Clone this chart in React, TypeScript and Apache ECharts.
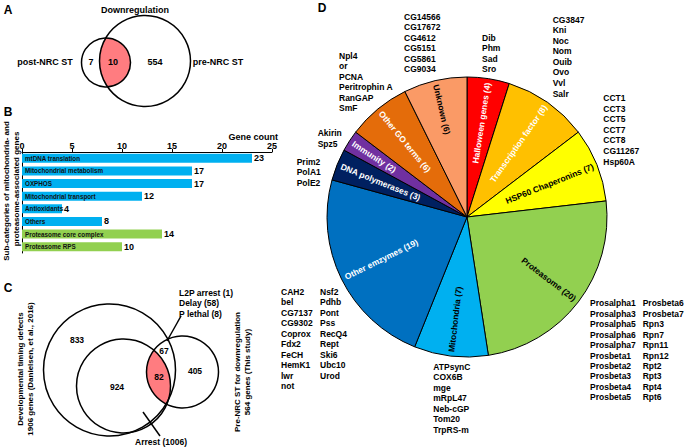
import React, { useEffect, useRef } from 'react';
import * as echarts from 'echarts';

const FONT = '"Liberation Sans", Arial, sans-serif';

// ---------- Panel B data ----------
const barCategories = [
  'mtDNA translation',
  'Mitochondrial metabolism',
  'OXPHOS',
  'Mitochondrial transport',
  'Antioxidants',
  'Others',
  'Proteasome core complex',
  'Proteasome RPS',
];
const barValues = [23, 17, 17, 12, 4, 8, 14, 10];
const barGroups = ['mito', 'mito', 'mito', 'mito', 'mito', 'mito', 'prot', 'prot'];
const groupColors: Record<string, string> = { mito: '#00B0F0', prot: '#92D050' };

// ---------- Panel D data ----------
const pieNames = [
  'Halloween genes',
  'Transcription factor',
  'HSP60 Chaperonins',
  'Proteasome',
  'Mitochondria',
  'Other emzymes',
  'DNA polymerases',
  'Immunity',
  'Other GO terms',
  'Unknown',
];
const pieValues = [4, 8, 7, 20, 7, 19, 3, 2, 6, 6];
const pieColors = ['#FF0000', '#FFC000', '#FFFF00', '#92D050', '#00B0F0', '#0070C0', '#002060', '#7030A0', '#E46C0A', '#FA9A66'];
const pieTextColors = ['#fff', '#fff', '#000', '#000', '#000', '#fff', '#fff', '#fff', '#fff', '#000'];

const unknownGenes = ['CG14566', 'CG17672', 'CG4612', 'CG5151', 'CG5861', 'CG9034'];
const halloweenGenes = ['Dib', 'Phm', 'Sad', 'Sro'];
const tfGenes = ['CG3847', 'Kni', 'Noc', 'Nom', 'Ouib', 'Ovo', 'Vvl', 'Salr'];
const hspGenes = ['CCT1', 'CCT3', 'CCT5', 'CCT7', 'CCT8', 'CG11267', 'Hsp60A'];
const otherGoGenes = ['Npl4', 'or', 'PCNA', 'Peritrophin A', 'RanGAP', 'SmF'];
const immunityGenes = ['Akirin', 'Spz5'];
const dnaPolGenes = ['Prim2', 'PolA1', 'PolE2'];
const enzymeGenes1 = ['CAH2', 'bel', 'CG7137', 'CG9302', 'Coprox', 'Fdx2', 'FeCH', 'HemK1', 'lwr', 'not'];
const enzymeGenes2 = ['Nsf2', 'Pdhb', 'Pont', 'Pss', 'RecQ4', 'Rept', 'Ski6', 'Ubc10', 'Urod'];
const mitoGenes = ['ATPsynC', 'COX6B', 'mge', 'mRpL47', 'Neb-cGP', 'Tom20', 'TrpRS-m'];
const proteasomeGenes1 = ['Prosalpha1', 'Prosalpha3', 'Prosalpha5', 'Prosalpha6', 'Prosalpha7', 'Prosbeta1', 'Prosbeta2', 'Prosbeta3', 'Prosbeta4', 'Prosbeta5'];
const proteasomeGenes2 = ['Prosbeta6', 'Prosbeta7', 'Rpn3', 'Rpn7', 'Rpn11', 'Rpn12', 'Rpt2', 'Rpt3', 'Rpt4', 'Rpt6'];

// ---------- Panel A / C data ----------
const vennATitle = 'Downregulation';
const vennASets = ['post-NRC ST', 'pre-NRC ST'];
const vennACounts = [7, 10, 554];
const vennCCounts = [833, 924, 67, 82, 405];
const vennCNotes = ['L2P arrest (1)', 'Delay (58)', 'P lethal (8)'];
const vennCArrest = 'Arrest (1006)';
const vennCLeft = ['Developmental timing defects', '1906 genes (Danielsen, et al., 2016)'];
const vennCRight = ['Pre-NRC ST for downregulation', '564 genes (This study)'];

const PIE_R = 140;
const PIE_LABEL_OUTER = 133;
const PIE_FONT_SIZE = 8.5;

const Lens = (echarts.graphic as any).extendShape({
  shape: { x1: 0, y1: 0, r1: 1, x2: 0, y2: 0, r2: 1 },
  buildPath(ctx: any, s: any) {
    const dx = s.x2 - s.x1;
    const dy = s.y2 - s.y1;
    const d = Math.sqrt(dx * dx + dy * dy);
    const a = (s.r1 * s.r1 - s.r2 * s.r2 + d * d) / (2 * d);
    const th = Math.atan2(dy, dx);
    const al1 = Math.acos(Math.max(-1, Math.min(1, a / s.r1)));
    const al2 = Math.acos(Math.max(-1, Math.min(1, (d - a) / s.r2)));
    ctx.moveTo(s.x1 + s.r1 * Math.cos(th - al1), s.y1 + s.r1 * Math.sin(th - al1));
    ctx.arc(s.x1, s.y1, s.r1, th - al1, th + al1, false);
    ctx.arc(s.x2, s.y2, s.r2, th + Math.PI - al2, th + Math.PI + al2, false);
    ctx.closePath();
  },
});
(echarts.graphic as any).registerShape('lens', Lens);

function txt(text: string, x: number, y: number, opts: any = {}) {
  const align = opts.align || 'center';
  const valign = opts.valign || 'middle';
  return {
    type: 'text',
    x,
    y,
    rotation: opts.rotation || 0,
    z: 10,
    style: {
      text,
      fill: opts.color || '#000',
      fontSize: opts.size || 9,
      fontWeight: 'bold',
      fontFamily: FONT,
      align,
      textAlign: align,
      verticalAlign: valign,
      textVerticalAlign: valign,
      lineHeight: opts.lh,
    },
  };
}

function geneList(list: string[], x: number, firstCenter: number, lh = 10.55) {
  return txt(list.join('\n'), x, firstCenter - lh / 2, { align: 'left', valign: 'top', size: 8.5, lh });
}

function circle(cx: number, cy: number, r: number) {
  return {
    type: 'circle',
    z: 5,
    shape: { cx, cy, r },
    style: { fill: 'none', stroke: '#000', lineWidth: 1.5 },
  };
}

function lens(x1: number, y1: number, r1: number, x2: number, y2: number, r2: number) {
  return {
    type: 'lens',
    z: 4,
    shape: { x1, y1, r1, x2, y2, r2 },
    style: { fill: '#FF7C80' },
  };
}

function seg(x1: number, y1: number, x2: number, y2: number) {
  return { type: 'line', z: 6, shape: { x1, y1, x2, y2 }, style: { stroke: '#000', lineWidth: 1.5 } };
}

function measure(text: string, size: number) {
  const c = document.createElement('canvas').getContext('2d');
  if (!c) return text.length * size * 0.6;
  c.font = `bold ${size}px ${FONT}`;
  return c.measureText(text).width;
}

export default function App() {
  const ref = useRef<HTMLDivElement>(null);
  useEffect(() => {
    if (!ref.current) return;
    const chart = echarts.init(ref.current, undefined, { renderer: 'svg' });

    const graphics: any[] = [
      // Panel letters
      txt('A', 8, 10, { size: 12 }),
      txt('B', 8, 112, { size: 12 }),
      txt('C', 8, 288, { size: 12 }),
      txt('D', 322, 8, { size: 12 }),
      // Panel A
      lens(106, 62.5, 24.5, 145, 61, 45.5),
      circle(106, 62.5, 24.5),
      circle(145, 61, 45.5),
      txt(vennATitle, 135, 10),
      txt(vennASets[0], 45, 62),
      txt(vennASets[1], 218, 62),
      txt(String(vennACounts[0]), 91, 62),
      txt(String(vennACounts[1]), 113, 62),
      txt(String(vennACounts[2]), 155, 62),
      // Panel B texts
      txt('Gene count', 278, 137, { align: 'right' }),
      txt('Sub-categories of mitochondria- and', 6, 191, { size: 8, rotation: Math.PI / 2 }),
      txt('proteasome-associated genes', 16, 189, { size: 8, rotation: Math.PI / 2 }),
      // Panel C
      lens(123.5, 386, 47, 182.5, 372, 36),
      circle(109.5, 370, 66),
      circle(123.5, 386, 47),
      circle(182.5, 372, 36),
      seg(181, 316, 167, 341),
      seg(143, 412, 160, 436),
      txt(String(vennCCounts[0]), 77, 340, { size: 8.5 }),
      txt(String(vennCCounts[1]), 117, 387, { size: 8.5 }),
      txt(String(vennCCounts[2]), 164, 351, { size: 8.5 }),
      txt(String(vennCCounts[3]), 159, 377, { size: 8.5 }),
      txt(String(vennCCounts[4]), 195, 371, { size: 8.5 }),
      txt(vennCNotes.join('\n'), 179, 288, { align: 'left', valign: 'top', size: 8.5, lh: 10.3 }),
      txt(vennCArrest, 161, 442, { size: 8.5 }),
      txt(vennCLeft[0], 20, 369, { size: 8, rotation: Math.PI / 2 }),
      txt(vennCLeft[1], 30, 369, { size: 8, rotation: Math.PI / 2 }),
      txt(vennCRight[0], 237, 372, { size: 8, rotation: Math.PI / 2 }),
      txt(vennCRight[1], 247, 372, { size: 8, rotation: Math.PI / 2 }),
      // Panel D gene lists
      geneList(unknownGenes, 404, 16.7),
      geneList(halloweenGenes, 482, 37.7),
      geneList(tfGenes, 552.7, 19.7),
      geneList(hspGenes, 603.3, 98.3),
      geneList(otherGoGenes, 339, 55.7),
      geneList(immunityGenes, 317.7, 133.5),
      geneList(dnaPolGenes, 296.7, 162.3, 10.1),
      geneList(enzymeGenes1, 281, 291.7, 10.48),
      geneList(enzymeGenes2, 320, 291.7, 10.48),
      geneList(mitoGenes, 433.3, 367, 10.45),
      geneList(proteasomeGenes1, 590, 303.3, 10.45),
      geneList(proteasomeGenes2, 642.7, 303.3, 10.45),
    ];

    const total = pieValues.reduce((a, b) => a + b, 0);
    let cum = 0;
    const pieData = pieNames.map((n, i) => ({ name: n, value: pieValues[i], itemStyle: { color: pieColors[i] } }));
    // Labels: placed along the radius so that their outer end sits near the rim
    const pieLabelData = pieNames.map((n, i) => {
      const mid = (cum + pieValues[i] / 2) / total;
      cum += pieValues[i];
      const rightSide = Math.sin(mid * 2 * Math.PI) >= 0;
      const text = `${n} (${pieValues[i]})`;
      const w = measure(text, PIE_FONT_SIZE);
      const shift = PIE_LABEL_OUTER - w / 2 - PIE_R / 2; // outward shift from default inside position
      const p = Math.abs(2 * shift);
      const outwardPad = rightSide ? [0, 0, 0, p] : [0, p, 0, 0];
      const inwardPad = rightSide ? [0, p, 0, 0] : [0, 0, 0, p];
      return {
        name: n,
        value: pieValues[i],
        label: { color: pieTextColors[i], padding: shift >= 0 ? outwardPad : inwardPad },
      };
    });

    chart.setOption({
      animation: false,
      textStyle: { fontFamily: FONT },
      grid: { left: 22, top: 152, width: 250, height: 101 },
      xAxis: {
        type: 'value',
        position: 'top',
        min: 0,
        max: 25,
        interval: 5,
        axisLine: { show: true, lineStyle: { color: '#000', width: 1 } },
        axisTick: { show: true, length: 3, lineStyle: { color: '#000' } },
        axisLabel: { fontSize: 9, fontWeight: 'bold', color: '#000', margin: 2 },
        splitLine: { show: false },
      },
      yAxis: {
        type: 'category',
        inverse: true,
        data: barCategories,
        axisLine: { show: true, lineStyle: { color: '#000', width: 1 } },
        axisTick: { show: false },
        axisLabel: { show: false },
      },
      series: [
        {
          type: 'bar',
          barWidth: 9,
          silent: true,
          data: barValues.map((v, i) => ({ value: v, itemStyle: { color: groupColors[barGroups[i]] } })),
          label: { show: true, position: 'right', distance: 2, fontSize: 9, fontWeight: 'bold', color: '#000' },
        },
        {
          type: 'bar',
          barWidth: 9,
          barGap: '-100%',
          silent: true,
          z: 3,
          data: barValues,
          itemStyle: { color: 'rgba(0,0,0,0)' },
          label: {
            show: true,
            position: 'insideLeft',
            distance: 3,
            formatter: (p: any) => p.name,
            fontSize: 6.3,
            fontWeight: 'bold',
            color: '#111',
          },
        },
        {
          type: 'pie',
          center: [467, 217],
          radius: [0, PIE_R],
          startAngle: 90,
          clockwise: true,
          silent: true,
          avoidLabelOverlap: false,
          label: { show: false },
          labelLine: { show: false },
          itemStyle: { borderColor: '#000', borderWidth: 1 },
          data: pieData,
        },
        {
          type: 'pie',
          center: [467, 217],
          radius: [0, PIE_R],
          startAngle: 90,
          clockwise: true,
          silent: true,
          z: 4,
          avoidLabelOverlap: false,
          itemStyle: { color: 'rgba(0,0,0,0)', borderWidth: 0 },
          labelLine: { show: false },
          label: {
            show: true,
            position: 'inside',
            rotate: 'radial',
            fontSize: PIE_FONT_SIZE,
            fontWeight: 'bold',
            formatter: (p: any) => `${p.name} (${p.value})`,
          },
          data: pieLabelData,
        },
      ],
      graphic: { elements: graphics },
    });
    return () => chart.dispose();
  }, []);
  return (
    <div
      ref={ref}
      style={{ position: 'fixed', left: 0, top: 0, width: 685, height: 447, background: '#fff' }}
    />
  );
}
